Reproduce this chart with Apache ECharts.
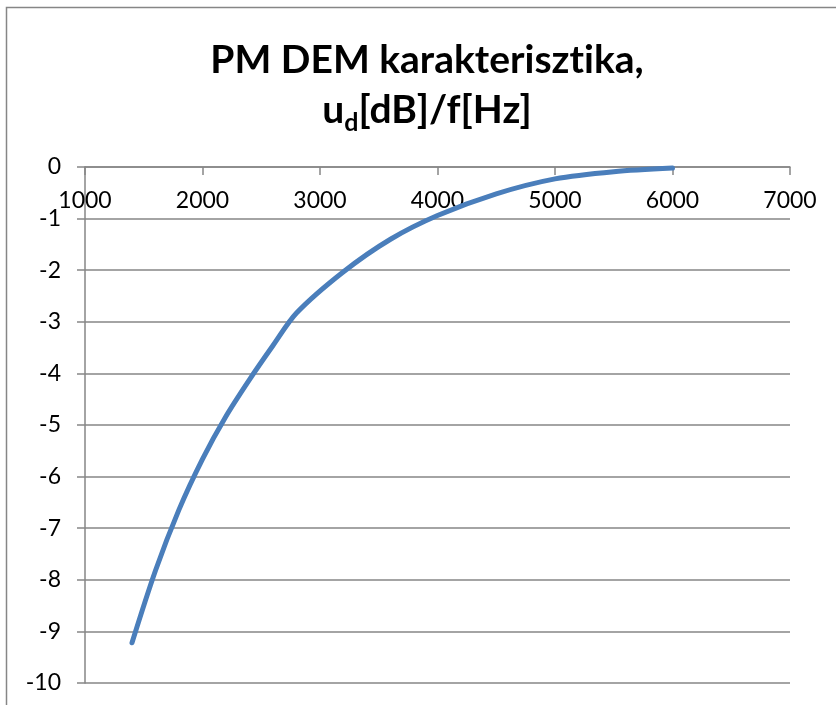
<!DOCTYPE html>
<html>
<head>
<meta charset="utf-8">
<script src="https://cdn.jsdelivr.net/npm/echarts@6/dist/echarts.min.js"></script>
<style>
html,body{margin:0;padding:0;background:#fff;}
#chart{width:836px;height:705px;}
</style>
</head>
<body>
<div id="chart"></div>
<script>
// Data
const freq = [1400, 1600, 1800, 2000, 2200, 2400, 2600, 2800, 3200, 3600, 4000, 4500, 5000, 5500, 6000];
const ud = [-9.22, -7.82, -6.64, -5.66, -4.83, -4.12, -3.46, -2.83, -2.03, -1.40, -0.94, -0.52, -0.23, -0.09, -0.02];
const xTicks = [1000, 7000, 1000]; // min, max, interval
const yTicks = [-10, 0, 1];

const seriesData = freq.map((f, i) => [f, ud[i]]);
const grey = '#868686';
const fontFam = 'Lato, "Open Sans", sans-serif';

const chart = echarts.init(document.getElementById('chart'), null, {renderer: 'canvas'});
chart.setOption({
  backgroundColor: '#fff',
  animation: false,
  graphic: [
    {
      type: 'rect',
      shape: {x: 6.5, y: 7.5, width: 1000, height: 1000},
      style: {fill: 'none', stroke: grey, lineWidth: 1.5},
      silent: true
    },
    {
      type: 'text',
      x: 427,
      y: 35,
      style: {
        text: '{a|PM DEM karakteriszt\u200Cika,}\n{a|u}{b|d}{a|[dB]/f[Hz]}',
        align: 'center',
        verticalAlign: 'top',
        fill: '#000',
        rich: {
          a: {fontFamily: fontFam, fontWeight: 'bold', fontSize: 39, lineHeight: 50, fill: '#000'},
          b: {fontFamily: fontFam, fontWeight: 'bold', fontSize: 25, lineHeight: 25, verticalAlign: 'bottom', fill: '#000'}
        }
      }
    }
  ],
  grid: {left: 85, right: 46, top: 167, bottom: 22, containLabel: false},
  xAxis: {
    type: 'value',
    position: 'top',
    min: xTicks[0], max: xTicks[1], interval: xTicks[2],
    axisLine: {show: true, onZero: false, lineStyle: {color: grey, width: 1.5}},
    axisTick: {show: true, inside: true, length: 8, lineStyle: {color: grey, width: 1.5}},
    axisLabel: {inside: true, margin: 34, verticalAlign: 'middle', color: '#000', fontFamily: fontFam, fontSize: 23,
      formatter: v => String(v)},
    splitLine: {show: false}
  },
  yAxis: {
    type: 'value',
    min: yTicks[0], max: yTicks[1], interval: yTicks[2],
    axisLine: {show: true, onZero: false, lineStyle: {color: grey, width: 1.5}},
    axisTick: {show: true, inside: false, length: 8, lineStyle: {color: grey, width: 1.5}},
    axisLabel: {margin: 24, color: '#000', fontFamily: fontFam, fontSize: 23, formatter: v => String(v)},
    splitLine: {show: true, lineStyle: {color: grey, width: 1.5}}
  },
  series: [{
    type: 'line',
    data: seriesData,
    smooth: 0.3,
    showSymbol: false,
    symbol: 'none',
    lineStyle: {color: '#4a7ebb', width: 5, cap: 'round', join: 'round'}
  }]
});
</script>
</body>
</html>
